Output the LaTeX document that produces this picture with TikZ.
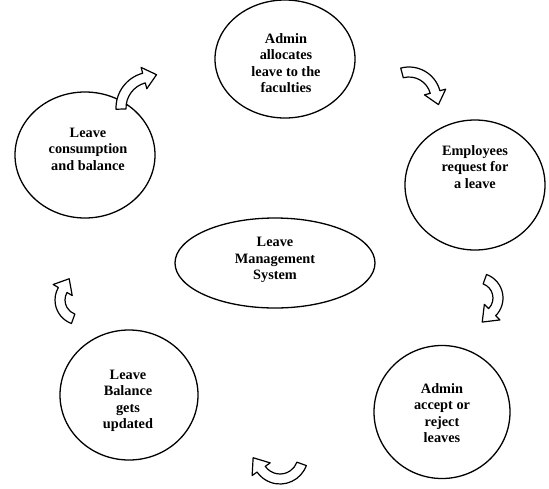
\documentclass[tikz,border=0pt]{standalone}
\usepackage{fontspec}
\setmainfont{Liberation Serif}
\usetikzlibrary{shapes.geometric,calc}
\tikzset{
  bubble/.style={draw, line width=1.3pt, ellipse, inner sep=0pt},
  btext/.style={align=center, inner sep=0pt,
    font=\fontsize{14.3}{16.5}\selectfont\bfseries},
  arrowstyle/.style={draw, fill=white, line width=1.2pt, line join=round}
}
% cx cy r a1 a3 shaftwidth headwidth headlength
\newcommand\blockarr[8]{%
  \pgfmathsetmacro\dd{sign(#5-#4)}%
  \pgfmathsetmacro\ro{#3+#6/2}%
  \pgfmathsetmacro\ri{#3-#6/2}%
  \pgfmathsetmacro\ho{#3+#7/2}%
  \pgfmathsetmacro\hi{#3-#7/2}%
  \pgfmathsetmacro\ta{#5+90*\dd}%
  \coordinate (c) at (#1,#2);
  \draw[arrowstyle] ($(c)+(#4:\ro)$) arc[start angle=#4, end angle=#5, radius=\ro pt]
    -- ($(c)+(#5:\ho)$) -- ($(c)+(#5:#3)+(\ta:#8)$) -- ($(c)+(#5:\hi)$)
    -- ($(c)+(#5:\ri)$) arc[start angle=#5, end angle=#4, radius=\ri pt] -- cycle;
}
\begin{document}
\begin{tikzpicture}[x=1pt,y=1pt,yscale=-1]
\path[use as bounding box] (0,0) rectangle (549,488);
\node[bubble, minimum width=140pt, minimum height=118pt] (alloc) at (285,59) {};
\node[btext] (alloc-t) at (286,63) {Admin\\allocates\\leave to the\\faculties};
\node[bubble, minimum width=140pt, minimum height=130pt] (req) at (475,185) {};
\node[btext] (req-t) at (475,167) {Employees\\request for\\a leave};
\node[bubble, minimum width=200pt, minimum height=90pt] (lms) at (275,263) {};
\node[btext] (lms-t) at (275,260) {Leave\\Management\\System};
\node[bubble, minimum width=140pt, minimum height=126pt] (cons) at (85,155) {};
\node[btext] (cons-t) at (88,149) {Leave\\consumption\\and balance};
\node[bubble, minimum width=138pt, minimum height=130pt] (upd) at (129,395) {};
\node[btext] (upd-t) at (128,401) {Leave\\Balance\\gets\\updated};
\node[bubble, minimum width=136pt, minimum height=133pt] (acc) at (442,412) {};
\node[btext] (acc-t) at (442,413) {Admin\\accept or\\reject\\leaves};
% curved block arrows
\blockarr{152}{108}{31}{178}{255}{10}{22}{13}
\blockarr{409}{99}{27}{-105}{-15}{10}{22}{13}
\blockarr{478}{298}{20}{-70}{45}{10}{22}{14}
\blockarr{280}{456}{23}{20}{145}{10}{22}{14}
\blockarr{80}{300}{20}{110}{210}{10}{22}{13}
\end{tikzpicture}
\end{document}
